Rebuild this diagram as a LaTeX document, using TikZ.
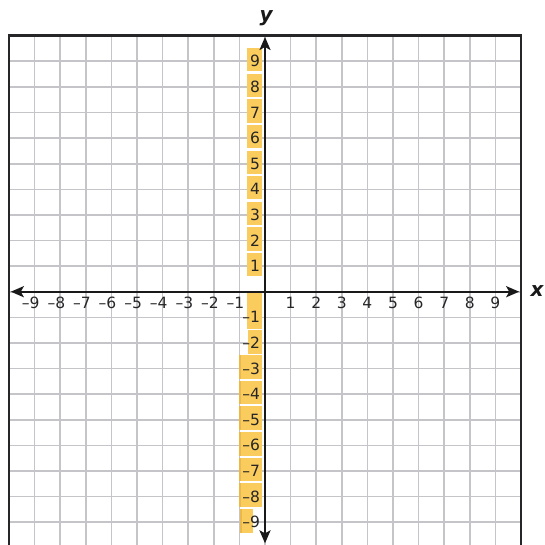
\documentclass[tikz,border=0pt]{standalone}
\usepackage{fontspec}
\setmainfont{DejaVu Sans}
\usetikzlibrary{arrows.meta}
\definecolor{gridc}{RGB}{196,196,201}
\definecolor{framec}{RGB}{38,38,40}
\definecolor{axisc}{RGB}{25,25,25}
\definecolor{boxc}{RGB}{250,204,94}
\definecolor{boxedge}{RGB}{236,184,72}
\begin{document}
\begin{tikzpicture}[x=25.6pt,y=25.6pt,
  numlbl/.style={font=\fontsize{15.5}{17}\selectfont, inner sep=0pt, text=black!85, anchor=base},
  axislbl/.style={font=\fontsize{20}{22}\selectfont\bfseries\itshape, inner sep=0pt, text=black!90},
  gridline/.style={draw=gridc, line width=1.6pt},
  axisline/.style={line width=2.3pt, draw=axisc,
    {Stealth[length=13pt,width=11pt,inset=3pt]}-{Stealth[length=13pt,width=11pt,inset=3pt]}}]
\useasboundingbox (-10.3516,-9.8555) rectangle (10.9375,11.3945);
\clip (-10.3516,-9.8555) rectangle (10.9375,11.3945);
% grid
\foreach \i in {-9,...,9}{
  \draw[gridline] (\i,-10) -- (\i,10);
  \draw[gridline] (-10,\i) -- (10,\i);
}
% yellow label boxes, positive y
\foreach \k in {1,...,9}
  \fill[boxc] (-0.685,{\k+0.06-0.455}) rectangle (-0.105,{\k+0.06+0.455});
% negative y
\fill[boxc] (-0.72,0) rectangle (-0.13,-1.457);
\fill[boxc] (-0.68,-1.496) rectangle (-0.13,-2.434);
\foreach \k in {3,...,8}{
  \fill[boxc] (-1.016,{-\k+0.06-0.46}) rectangle (-0.13,{-\k+0.06+0.46});
  \fill[boxedge] (-1.016,{-\k+0.06-0.46}) rectangle (-0.95,{-\k+0.06+0.46});
}
\fill[boxc] (-0.977,-8.49) rectangle (-0.48,-9.41);
\fill[boxedge] (-0.977,-8.49) rectangle (-0.91,-9.41);
% frame
\draw[framec, line width=2.7pt] (-10,-10) rectangle (10,10);
% tick labels
\foreach \k in {1,...,9}{
  \node[numlbl] (xp\k) at (\k,-0.674) {\k};
  \node[numlbl] (xn\k) at (-\k,-0.674) {\llap{–}\k};
  \node[numlbl] (yp\k) at (-0.39,{\k-0.2207}) {\k};
  \node[numlbl] (yn\k) at (-0.39,{-\k-0.2207}) {\llap{–}\k};
}
% axes
\coordinate (xl) at (-9.93,0);
\coordinate (xr) at (9.93,0);
\coordinate (yb) at (0,-9.83);
\coordinate (yt) at (0,9.95);
\draw[axisline] (xl) -- (xr);
\draw[axisline] (yb) -- (yt);
\node[axislbl, anchor=base] (ylab) at (0.04,10.56) {y};
\node[axislbl, anchor=base] (xlab) at (10.625,-0.18) {x};
\end{tikzpicture}
\end{document}
